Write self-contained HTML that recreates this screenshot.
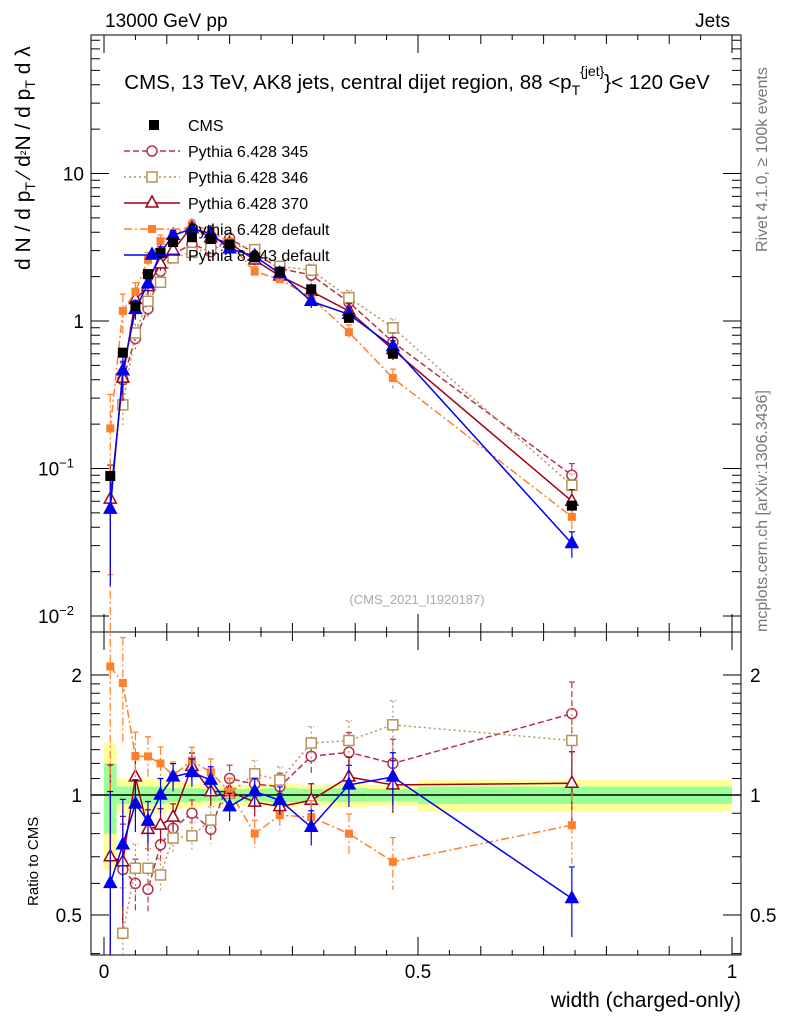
<!DOCTYPE html>
<html><head><meta charset="utf-8"><style>
body{margin:0;background:#fff;width:786px;height:1024px;overflow:hidden;font-family:"Liberation Sans",sans-serif}
svg text{font-family:"Liberation Sans",sans-serif}
</style></head><body>
<svg id="c" width="786" height="1024" viewBox="0 0 786 1024">
<text x="105" y="27" font-size="19">13000 GeV pp</text>
<text x="730" y="27" font-size="19" text-anchor="end">Jets</text>
<text x="417" y="89" font-size="20.5" text-anchor="middle">CMS, 13 TeV, AK8 jets, central dijet region, 88 &lt;p<tspan font-size="14" dy="6">T</tspan><tspan font-size="14" dy="-19">{jet}</tspan><tspan dy="13">}&lt; 120 GeV</tspan></text>
<text transform="translate(767,252) rotate(-90)" font-size="16" fill="#777">Rivet 4.1.0, ≥ 100k events</text>
<text transform="translate(767,632) rotate(-90)" font-size="16" fill="#777">mcplots.cern.ch [arXiv:1306.3436]</text>
<text x="417" y="604" font-size="13" fill="#aaa" text-anchor="middle">(CMS_2021_I1920187)</text>
<text transform="translate(30,270) rotate(-90)" font-size="21">d N / d p<tspan font-size="14" dy="5">T</tspan><tspan dy="-5"> ⁄ d</tspan><tspan font-size="14">²</tspan>N / d p<tspan font-size="14" dy="5">T</tspan><tspan dy="-5"> d λ</tspan></text>
<text transform="translate(38,906) rotate(-90)" font-size="15">Ratio to CMS</text>
<text x="741" y="1007" font-size="21" text-anchor="end">width (charged-only)</text>
<g id="g"></g>
</svg>
<script>
const xs=[0.01,0.03,0.05,0.07,0.09,0.11,0.14,0.17,0.2,0.24,0.28,0.33,0.39,0.46,0.745];
const cms=[0.089,0.61,1.26,2.08,2.9,3.43,3.7,3.6,3.3,2.7,2.16,1.64,1.05,0.60,0.056];
const p345=[null,0.40,0.76,1.21,2.18,2.83,3.33,2.95,3.63,2.88,2.27,2.05,1.34,0.72,0.09];
const p346=[null,0.27,0.83,1.36,1.83,2.68,2.92,3.11,3.33,3.05,2.35,2.21,1.44,0.90,0.077];
const p370=[0.062,0.41,1.4,1.71,2.44,3.02,4.37,3.67,3.37,2.59,2.02,1.59,1.17,0.64,0.06];
const pdef=[0.187,1.17,1.58,2.6,3.48,3.84,4.5,4.1,3.37,2.16,1.92,1.44,0.84,0.41,0.047];
const p8=[0.053,0.46,1.2,1.79,2.9,3.81,4.22,3.92,3.09,2.75,2.1,1.36,1.11,0.67,0.031];
const r345=[null,0.65,0.60,0.58,0.75,0.825,0.90,0.82,1.10,1.065,1.05,1.25,1.28,1.2,1.6];
const r346=[null,0.45,0.655,0.655,0.63,0.78,0.79,0.865,1.01,1.13,1.09,1.35,1.37,1.5,1.37];
const r370=[0.70,0.68,1.11,0.82,0.84,0.88,1.18,1.02,1.02,0.96,0.935,0.97,1.11,1.06,1.07];
const rdef=[2.1,1.91,1.25,1.25,1.2,1.12,1.22,1.14,1.02,0.80,0.89,0.88,0.80,0.68,0.84];
const r8=[0.60,0.75,0.95,0.86,1.0,1.11,1.14,1.09,0.935,1.02,0.97,0.83,1.06,1.11,0.55];
const relErr=[0.7,0.3,0.15,0.12,0.1,0.08,0.08,0.08,0.08,0.08,0.08,0.1,0.12,0.15,0.2];
const binEdges=[0,0.02,0.04,0.06,0.08,0.1,0.125,0.155,0.185,0.22,0.26,0.31,0.36,0.42,0.5,1.0];
const bandY=[0.35,0.1,0.09,0.1,0.1,0.08,0.07,0.06,0.06,0.06,0.07,0.06,0.07,0.06,0.09];
const bandG=[0.2,0.05,0.05,0.05,0.05,0.04,0.04,0.035,0.035,0.035,0.04,0.035,0.04,0.035,0.05];
const xTicks=[0,0.5,1];
const xTickLabels=["0","0.5","1"];
const ratioTicks=[0.5,1,2];

const NS="http://www.w3.org/2000/svg",g=document.getElementById('g');
const L=91,R=741,T=35,M=632,B=955;
const X=v=>104+v*628;
const Y=v=>616-(Math.log10(v)+2)*147.5;
const RY=v=>795-120*Math.log2(v);
function mk(t,a,p){const e=document.createElementNS(NS,t);for(const k in a)e.setAttribute(k,a[k]);(p||g).appendChild(e);return e;}
for(let i=0;i<bandY.length;i++){
 let e=mk('rect',{x:X(binEdges[i]),width:X(binEdges[i+1])-X(binEdges[i]),y:RY(1+bandY[i]),height:RY(1-bandY[i])-RY(1+bandY[i]),fill:'#ffff99'});
 
 
 e=mk('rect',{x:X(binEdges[i]),width:X(binEdges[i+1])-X(binEdges[i]),y:RY(1+bandG[i]),height:RY(1-bandG[i])-RY(1+bandG[i]),fill:'#99ff99'});
 
 
}
let ln=mk('line',{x1:L,x2:R,y1:RY(1),y2:RY(1),stroke:'#000','stroke-width':1.5});


let f=mk('rect',{x:L,y:T,width:R-L,height:M-T,fill:'none',stroke:'#000'});


f=mk('rect',{x:L,y:M,width:R-L,height:B-M,fill:'none',stroke:'#000'});


for(let d=-2;d<=1;d++){for(let m=1;m<10;m++){const v=m*Math.pow(10,d),y=Y(v);if(y<T||y>M)continue;const len=m==1?18:9;
 let t=mk('path',{d:`M${L},${y}h${len}M${R},${y}h${-len}`,stroke:'#000'});
 
 }}
[[0.01,'10','−2'],[0.1,'10','−1'],[1,'1',''],[10,'10','']].forEach(a=>{
 const t=mk('text',{x:a[2]?70:84,y:Y(a[0])+7,'font-size':19,'text-anchor':a[2]?'start':'end'});
 
 
 if(a[2]){t.setAttribute('x',38);t.innerHTML=a[1]+'<tspan font-size="13" dy="-8">'+a[2]+'</tspan>';}else t.textContent=a[1];});
[0.4,0.5,0.6,0.7,0.8,0.9,1,1.1,1.2,1.3,1.4,1.5,1.6,1.7,1.8,1.9,2].forEach(v=>{const y=RY(v);if(y<M||y>B)return;const len=ratioTicks.includes(v)?18:9;
 let t=mk('path',{d:`M${L},${y}h${len}M${R},${y}h${-len}`,stroke:'#000'});
 
 });
ratioTicks.forEach(v=>{
 let t=mk('text',{x:82,y:RY(v)+7,'font-size':19,'text-anchor':'end'});t.textContent=String(v);
 
 
 t=mk('text',{x:750,y:RY(v)+7,'font-size':19});t.textContent=String(v);
 
 });
for(let k=0;k<=20;k++){const v=k*0.05,x=X(v);if(x>R)continue;const len=k%10==0?18:(k%2==0?9:5);
 let t=mk('path',{d:`M${x},${B}v${-len}M${x},${M}v${len}M${x},${T}v${len}M${x},${M}v${-len}`,stroke:'#000'});
 
 }
xTicks.forEach((v,i)=>{let t=mk('text',{x:X(v),y:978,'font-size':19,'text-anchor':'middle'});t.textContent=xTickLabels[i];
 
 });
const S=[
 {n:'pythia-6428-345',main:p345,rat:r345,c:'#b8304a',dash:'6,3',m:'circle',lab:'Pythia 6.428 345'},
 {n:'pythia-6428-346',main:p346,rat:r346,c:'#b8925a',dash:'2,3',m:'osquare',lab:'Pythia 6.428 346'},
 {n:'pythia-6428-370',main:p370,rat:r370,c:'#a00018',dash:'',m:'otri',lab:'Pythia 6.428 370'},
 {n:'pythia-6428-default',main:pdef,rat:rdef,c:'#ff7f2a',dash:'8,3,2,3',m:'fsquare',lab:'Pythia 6.428 default'},
 {n:'pythia-8243-default',main:p8,rat:r8,c:'#0000ee',dash:'',m:'ftri',lab:'Pythia 8.243 default'}];
function marker(type,x,y,c,name){let e;
 if(type=='circle')e=mk('circle',{cx:x,cy:y,r:5,fill:'#fff',stroke:c,'stroke-width':1.5});
 else if(type=='osquare')e=mk('rect',{x:x-5,y:y-5,width:10,height:10,fill:'#fff',stroke:c,'stroke-width':1.5});
 else if(type=='fsquare')e=mk('rect',{x:x-4,y:y-4,width:8,height:8,fill:c});
 else if(type=='cms')e=mk('rect',{x:x-5,y:y-5,width:10,height:10,fill:'#000'});
 else e=mk('path',{d:`M${x},${y-7}L${x+6},${y+4}L${x-6},${y+4}Z`,fill:type=='ftri'?c:'#fff',stroke:c,'stroke-width':1.5});
 
 }
function drawSeries(vals,yf,c,dash,m,name){
 const pts=[];vals.forEach((v,i)=>{if(v!=null)pts.push([X(xs[i]),yf(v),v,i]);});
 let p=mk('polyline',{points:pts.map(p=>p[0]+','+p[1]).join(' '),fill:'none',stroke:c,'stroke-width':1.5,'stroke-dasharray':dash});
 
 
 pts.forEach(q=>{const e=relErr[q[3]];const lo=Math.max(q[2]*(1-e),1e-3);
  let b=mk('path',{d:`M${q[0]},${yf(q[2]*(1+e))}V${Math.min(yf(lo),B)}M${q[0]-3},${yf(q[2]*(1+e))}h6`,stroke:c,'stroke-width':1.2,'stroke-dasharray':dash});
  
  
  marker(m,q[0],q[1],c,name+'-marker');});}
S.forEach(s=>{drawSeries(s.main,Y,s.c,s.dash,s.m,s.n);drawSeries(s.rat,RY,s.c,s.dash,s.m,s.n+'-ratio');});
cms.forEach((v,i)=>{marker('cms',X(xs[i]),Y(v),'#000','cms-marker');});
let ly=125;marker('cms',154,ly,'#000','legend-cms-marker');
let lt=mk('text',{x:188,y:ly+6,'font-size':16});lt.textContent='CMS';


S.forEach((s,i)=>{const y=151+26*i;
 let l=mk('line',{x1:124,x2:180,y1:y,y2:y,stroke:s.c,'stroke-width':1.5,'stroke-dasharray':s.dash});
 
 
 marker(s.m,152,y,s.c,'legend-marker');
 let t=mk('text',{x:188,y:y+6,'font-size':16});t.textContent=s.lab;
 
 });
</script>
</body></html>
